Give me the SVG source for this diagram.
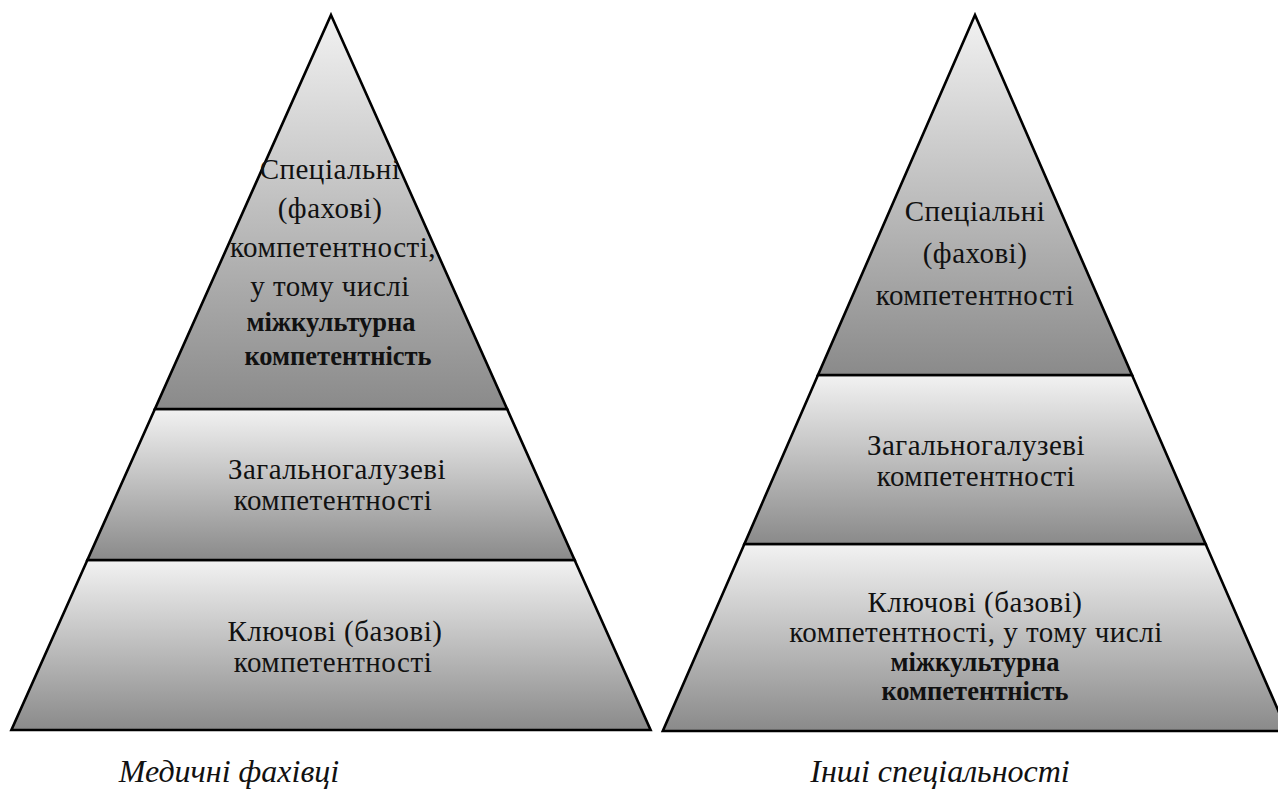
<svg xmlns="http://www.w3.org/2000/svg" width="1278" height="789" viewBox="0 0 1278 789">
  <defs>
    <linearGradient id="tierFill" x1="0" y1="0" x2="0" y2="1">
      <stop offset="0" stop-color="#f2f2f2"/>
      <stop offset="1" stop-color="#8a8a8a"/>
    </linearGradient>
  </defs>
  <style>
    .tier { fill: url(#tierFill); stroke: #000; stroke-width: 2.6; stroke-linejoin: miter; }
    text { font-family: Tinos, "Liberation Serif", "Times New Roman", Times, "Noto Serif", FreeSerif, "DejaVu Serif", serif; }
    .lbl { font-size: 29px; letter-spacing: 0.5px; fill: #111; text-anchor: middle; }
    .bold { font-weight: bold; font-size: 26.5px; letter-spacing: 0; }
    .cap { font-size: 32px; font-style: italic; fill: #111; text-anchor: middle; }
  </style>
  <rect width="1278" height="789" fill="#fff"/>

  <!-- Left pyramid: medical professionals -->
  <g id="medical-pyramid">
    <g id="med-key">
      <polygon class="tier" points="87.4,560 574.6,560 650.6,730 11.4,730"/>
      <text class="lbl" x="335" y="641">Ключові (базові)</text>
      <text class="lbl" x="333" y="672">компетентності</text>
    </g>
    <g id="med-general">
      <polygon class="tier" points="154.9,409 507.1,409 574.6,560 87.4,560"/>
      <text class="lbl" x="337" y="479">Загальногалузеві</text>
      <text class="lbl" x="333" y="510">компетентності</text>
    </g>
    <g id="med-special">
      <polygon class="tier" points="331,15 507.1,409 154.9,409"/>
      <text class="lbl" x="330" y="179">Спеціальні</text>
      <text class="lbl" x="330" y="218">(фахові)</text>
      <text class="lbl" x="333" y="257">компетентності,</text>
      <text class="lbl" x="330" y="296">у тому числі</text>
      <text class="lbl bold" x="331" y="331">міжкультурна</text>
      <text class="lbl bold" x="338" y="365">компетентність</text>
    </g>
    <text id="med-caption" class="cap" x="229" y="782">Медичні фахівці</text>
  </g>

  <!-- Right pyramid: other specialities -->
  <g id="other-pyramid">
    <g id="oth-key">
      <polygon class="tier" points="744.4,544 1205.6,544 1287.2,731 662.8,731"/>
      <text class="lbl" x="975" y="612">Ключові (базові)</text>
      <text class="lbl" x="976" y="642">компетентності, у тому числі</text>
      <text class="lbl bold" x="975" y="671">міжкультурна</text>
      <text class="lbl bold" x="975" y="700">компетентність</text>
    </g>
    <g id="oth-general">
      <polygon class="tier" points="818,375 1132,375 1205.6,544 744.4,544"/>
      <text class="lbl" x="976" y="455">Загальногалузеві</text>
      <text class="lbl" x="976" y="486">компетентності</text>
    </g>
    <g id="oth-special">
      <polygon class="tier" points="975,15 1132,375 818,375"/>
      <text class="lbl" x="975" y="221">Спеціальні</text>
      <text class="lbl" x="975" y="263">(фахові)</text>
      <text class="lbl" x="975" y="305">компетентності</text>
    </g>
    <text id="oth-caption" class="cap" x="940" y="782">Інші спеціальності</text>
  </g>

  <g id="connectors"/>
</svg>
